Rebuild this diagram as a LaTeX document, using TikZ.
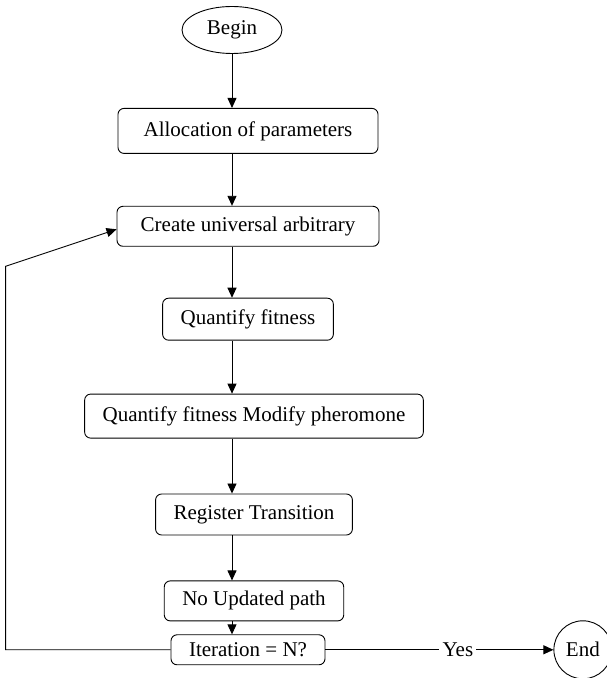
\documentclass[tikz,border=0pt]{standalone}
\usepackage{fontspec}
\setmainfont{Liberation Serif}
\usetikzlibrary{positioning,arrows.meta,shapes.geometric}

\begin{document}
\begin{tikzpicture}[
  x=1pt, y=1pt,
  font=\fontsize{21}{25}\selectfont,
  >={Triangle[length=10pt,width=9pt]},
  box/.style={draw, line width=0.9pt, rounded corners=6pt, align=center, minimum height=40pt, inner xsep=18pt, inner ysep=2pt},
  terminal/.style={draw, line width=0.9pt, ellipse, minimum width=100pt, minimum height=47pt, inner sep=0pt},
  arrow/.style={->, line width=0.9pt},
  link/.style={line width=0.9pt}
]
\useasboundingbox (0,0) rectangle (607,678);

% Main chain
\node[terminal] (begin) at (232,648) {Begin};
\node[box, minimum width=260pt, minimum height=45pt, below=54pt of begin, xshift=16pt] (alloc) {Allocation of parameters};
\node[box, minimum width=262pt, below=52pt of alloc] (create) {Create universal arbitrary};
\node[box, minimum height=42pt, below=51pt of create] (quant) {Quantify fitness};
\node[box, minimum height=44pt, below=53pt of quant, xshift=6pt] (modify) {Quantify fitness Modify pheromone};
\node[box, minimum height=41pt, below=55pt of modify] (register) {Register Transition};
\node[box, below=45pt of register] (noupdate) {No Updated path};
\node[box, minimum height=30pt, below=13pt of noupdate, xshift=-6pt] (iter) {Iteration = N?};

% Exit
\node[inner xsep=3pt, inner ysep=0pt, right=114pt of iter] (yes) {Yes};
\node[draw, line width=0.9pt, circle, minimum size=58pt, inner sep=0pt, right=228pt of iter] (end) {End};

% Downward arrows
\draw[arrow] (begin.south) -- (alloc.north -| begin.south);
\draw[arrow] (alloc.south -| begin.south) -- (create.north -| begin.south);
\draw[arrow] (create.south -| begin.south) -- (quant.north -| begin.south);
\draw[arrow] (quant.south -| begin.south) -- (modify.north -| begin.south);
\draw[arrow] (modify.south -| begin.south) -- (register.north -| begin.south);
\draw[arrow] (register.south -| begin.south) -- (noupdate.north -| begin.south);
\draw[arrow] (noupdate.south -| begin.south) -- (iter.north -| begin.south);

% Yes branch
\draw[link] (iter.east) -- (yes.west);
\draw[arrow] (yes.east) -- (end.west);

% Loop back
\coordinate[left=165pt of iter.west] (loopb);
\coordinate (loopt) at ([yshift=-40pt]create.west -| loopb);
\draw[arrow] (iter.west) -- (loopb) -- (loopt) -- ([yshift=-3pt]create.west);

\end{tikzpicture}
\end{document}
